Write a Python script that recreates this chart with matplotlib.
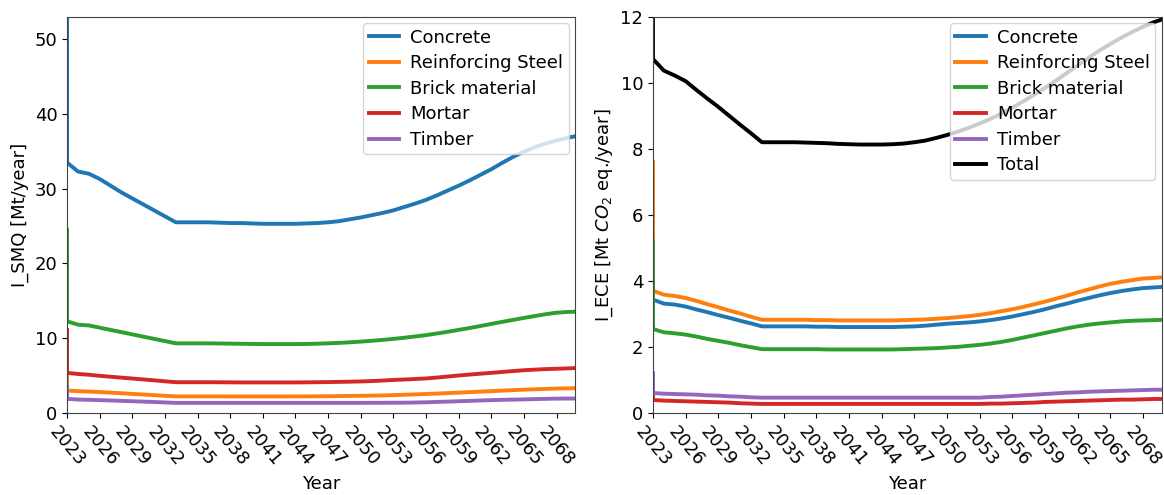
import numpy as np
import matplotlib
matplotlib.use("Agg")
import matplotlib.pyplot as plt

years = np.arange(2023, 2071)
x_ticks = np.arange(2023, 2070, 3)
materials = ["Concrete", "Reinforcing Steel", "Brick material", "Mortar", "Timber"]
colors = ["tab:blue", "tab:orange", "tab:green", "tab:red", "tab:purple"]

# start-of-run values (first time step) for each series
smq_start = [57.0, 5.8, 24.5, 11.1, 3.5]
ece_start = [7.0, 7.6, 5.2, 0.8, 1.2]
ece_total_start = 21.8

# secondary material quantities, Mt/year
smq_concrete = [33.5, 32.3, 32.0, 31.3, 30.4, 29.5, 28.7, 27.9, 27.1, 26.3, 25.5,
                25.5, 25.5, 25.5, 25.45, 25.4, 25.4, 25.35, 25.3, 25.3, 25.3, 25.3,
                25.35, 25.4, 25.5, 25.65, 25.9, 26.15, 26.45, 26.75, 27.1, 27.55,
                28.0, 28.5, 29.1, 29.75, 30.4, 31.1, 31.85, 32.6, 33.45, 34.25,
                34.95, 35.55, 36.05, 36.45, 36.8, 37.1]
smq_steel = [2.98, 2.9, 2.85, 2.78, 2.7, 2.62, 2.53, 2.45, 2.37, 2.28, 2.2,
             2.2, 2.2, 2.2, 2.2, 2.19, 2.19, 2.19, 2.19, 2.19, 2.19, 2.2, 2.2,
             2.21, 2.22, 2.24, 2.26, 2.28, 2.3, 2.33, 2.37, 2.42, 2.47, 2.52,
             2.58, 2.64, 2.7, 2.77, 2.84, 2.9, 2.97, 3.04, 3.1, 3.15, 3.2, 3.25,
             3.28, 3.3]
smq_brick = [12.25, 11.8, 11.7, 11.4, 11.1, 10.8, 10.5, 10.2, 9.9, 9.6, 9.3,
             9.3, 9.3, 9.3, 9.28, 9.26, 9.24, 9.22, 9.2, 9.2, 9.2, 9.2, 9.22,
             9.25, 9.3, 9.36, 9.44, 9.53, 9.64, 9.76, 9.9, 10.05, 10.22, 10.4,
             10.62, 10.85, 11.1, 11.35, 11.62, 11.9, 12.17, 12.44, 12.7, 12.95,
             13.2, 13.4, 13.5, 13.55]
smq_mortar = [5.35, 5.2, 5.1, 4.95, 4.83, 4.71, 4.59, 4.47, 4.35, 4.22, 4.1,
              4.1, 4.1, 4.1, 4.09, 4.08, 4.07, 4.07, 4.07, 4.07, 4.07, 4.07,
              4.08, 4.1, 4.12, 4.14, 4.17, 4.2, 4.25, 4.32, 4.4, 4.46, 4.53,
              4.6, 4.72, 4.86, 5.0, 5.12, 5.24, 5.35, 5.47, 5.59, 5.7, 5.78,
              5.85, 5.9, 5.95, 6.0]
smq_timber = [1.87, 1.78, 1.74, 1.7, 1.65, 1.6, 1.55, 1.5, 1.45, 1.39, 1.33,
              1.33, 1.33, 1.33, 1.33, 1.33, 1.33, 1.33, 1.33, 1.33, 1.33, 1.33,
              1.33, 1.33, 1.33, 1.33, 1.33, 1.33, 1.34, 1.34, 1.35, 1.36, 1.38,
              1.41, 1.46, 1.5, 1.55, 1.6, 1.65, 1.7, 1.74, 1.77, 1.8, 1.84,
              1.87, 1.9, 1.91, 1.92]

# embodied carbon emissions, Mt CO2 eq./year
ece_concrete = [3.43, 3.31, 3.28, 3.22, 3.13, 3.05, 2.96, 2.88, 2.79, 2.71, 2.62,
                2.62, 2.62, 2.62, 2.62, 2.61, 2.61, 2.6, 2.6, 2.6, 2.6, 2.6, 2.6,
                2.61, 2.62, 2.64, 2.67, 2.7, 2.72, 2.74, 2.77, 2.81, 2.86, 2.92,
                2.99, 3.06, 3.14, 3.23, 3.31, 3.4, 3.48, 3.56, 3.63, 3.69, 3.74,
                3.78, 3.8, 3.82]
ece_steel = [3.7, 3.58, 3.54, 3.48, 3.39, 3.29, 3.2, 3.1, 3.01, 2.91, 2.82,
             2.82, 2.82, 2.82, 2.82, 2.81, 2.81, 2.8, 2.8, 2.8, 2.8, 2.8, 2.8,
             2.81, 2.82, 2.83, 2.85, 2.87, 2.9, 2.93, 2.97, 3.02, 3.08, 3.14,
             3.21, 3.29, 3.37, 3.46, 3.55, 3.65, 3.74, 3.83, 3.91, 3.97, 4.02,
             4.07, 4.09, 4.11]
ece_brick = [2.54, 2.44, 2.41, 2.37, 2.31, 2.24, 2.18, 2.12, 2.05, 1.99, 1.93,
             1.93, 1.93, 1.93, 1.93, 1.93, 1.92, 1.92, 1.92, 1.92, 1.92, 1.92,
             1.92, 1.93, 1.94, 1.95, 1.96, 1.98, 2.0, 2.03, 2.06, 2.1, 2.15,
             2.21, 2.28, 2.35, 2.42, 2.49, 2.56, 2.62, 2.67, 2.71, 2.74, 2.77,
             2.79, 2.8, 2.81, 2.82]
ece_mortar = [0.39, 0.37, 0.36, 0.35, 0.34, 0.33, 0.32, 0.31, 0.29, 0.28, 0.27,
              0.27, 0.27, 0.27, 0.27, 0.27, 0.27, 0.27, 0.27, 0.27, 0.27, 0.27,
              0.27, 0.27, 0.27, 0.27, 0.27, 0.27, 0.27, 0.27, 0.27, 0.28, 0.28,
              0.29, 0.3, 0.31, 0.33, 0.34, 0.35, 0.36, 0.37, 0.38, 0.39, 0.4,
              0.4, 0.41, 0.42, 0.42]
ece_timber = [0.6, 0.58, 0.57, 0.56, 0.55, 0.53, 0.52, 0.5, 0.49, 0.47, 0.46,
              0.46, 0.46, 0.46, 0.46, 0.46, 0.46, 0.46, 0.46, 0.46, 0.46, 0.46,
              0.46, 0.46, 0.46, 0.46, 0.46, 0.46, 0.46, 0.46, 0.46, 0.48, 0.49,
              0.51, 0.53, 0.55, 0.57, 0.59, 0.61, 0.62, 0.64, 0.65, 0.66, 0.67,
              0.68, 0.69, 0.7, 0.7]
ece_total = [10.72, 10.37, 10.22, 10.05, 9.78, 9.52, 9.27, 9.0, 8.73, 8.47, 8.2,
             8.2, 8.2, 8.2, 8.19, 8.18, 8.17, 8.15, 8.14, 8.13, 8.13, 8.13,
             8.14, 8.16, 8.2, 8.25, 8.33, 8.42, 8.52, 8.64, 8.77, 8.91, 9.07,
             9.25, 9.44, 9.64, 9.85, 10.07, 10.3, 10.53, 10.76, 10.98, 11.18,
             11.37, 11.54, 11.7, 11.84, 11.95]

smq = [smq_concrete, smq_steel, smq_brick, smq_mortar, smq_timber]
ece = [ece_concrete, ece_steel, ece_brick, ece_mortar, ece_timber]

plt.rcParams["font.size"] = 13
x = np.r_[years[0], years]

fig = plt.figure(figsize=(11.64, 4.95), dpi=100)
ax1 = fig.add_axes([0.0576, 0.166, 0.4364, 0.8])
ax2 = fig.add_axes([0.561, 0.166, 0.437, 0.8])

for name, c, start, vals in zip(materials, colors, smq_start, smq):
    ax1.plot(x, np.r_[start, vals], color=c, lw=2.8, label=name)
for name, c, start, vals in zip(materials, colors, ece_start, ece):
    ax2.plot(x, np.r_[start, vals], color=c, lw=2.8, label=name)
ax2.plot(x, np.r_[ece_total_start, ece_total], color="black", lw=2.8, label="Total")

ax1.set_ylim(0, 53)
ax2.set_ylim(0, 12)
ax1.set_ylabel("I_SMQ [Mt/year]")
ax2.set_ylabel("I_ECE [Mt $CO_2$ eq./year]")

for ax in (ax1, ax2):
    ax.set_xlim(2023, 2069.7)
    ax.set_xticks(x_ticks)
    ax.tick_params(axis="x", labelrotation=-50)
    ax.set_xlabel("Year")
    for s in ax.spines.values():
        s.set_color("#444444")
    ax.legend(loc="upper right", borderaxespad=0.35, handlelength=1.7,
              labelspacing=0.42, borderpad=0.3, handletextpad=0.6)

fig.savefig("out.png", dpi=100)
